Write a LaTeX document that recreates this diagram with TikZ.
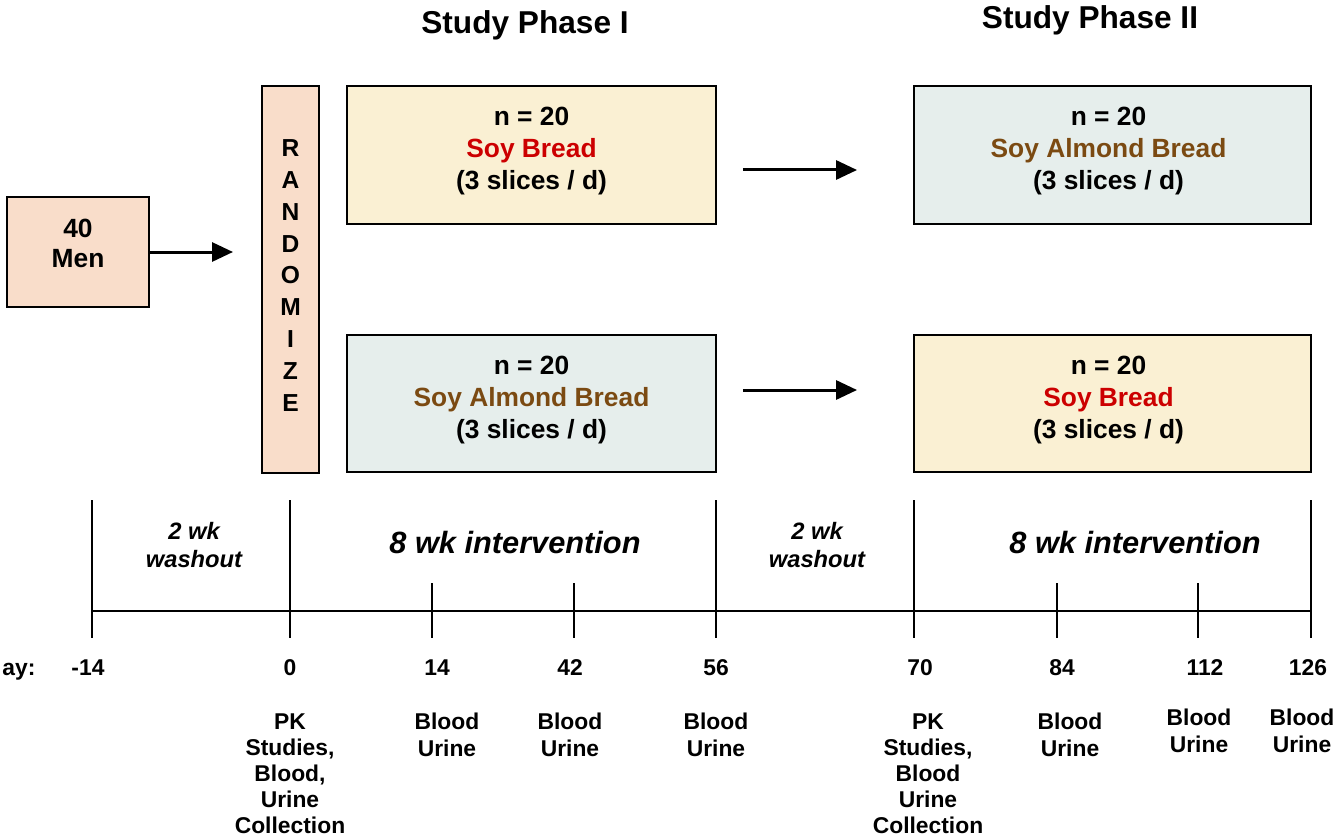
\documentclass[tikz,border=0pt]{standalone}
\usepackage{fontspec}
\setmainfont{Liberation Sans}
\usetikzlibrary{arrows.meta}

\definecolor{peach}{HTML}{F9DDCA}
\definecolor{cream}{HTML}{FAF0D3}
\definecolor{mist}{HTML}{E6EEEC}
\definecolor{soyred}{HTML}{CC0000}
\definecolor{almondbrown}{HTML}{7B4A12}

\tikzset{
  box/.style={draw=black, line width=0.4mm, inner sep=0pt},
  boxtext/.style={align=center, font=\bfseries\fontsize{15}{18.2}\selectfont},
  menbox/.style={box, fill=peach, minimum width=28.4mm, minimum height=22.2mm},
  randbox/.style={box, fill=peach, minimum width=11.4mm, minimum height=77.4mm},
  soybox/.style={box, fill=cream, minimum height=27.6mm},
  almondbox/.style={box, fill=mist, minimum height=27.6mm},
  arr/.style={line width=0.6mm, -{Triangle[length=4.2mm,width=3.8mm]}},
  daylab/.style={anchor=base, font=\bfseries\fontsize{13}{15}\selectfont},
  eventlab/.style={anchor=north, align=center, inner sep=0pt,
    font=\bfseries\fontsize{13}{14.9}\selectfont},
  phaselab/.style={align=center, font=\bfseries\itshape\fontsize{13.5}{15.9}\selectfont},
  intlab/.style={font=\bfseries\itshape\fontsize{17.5}{19}\selectfont},
  titlelab/.style={font=\bfseries\fontsize{18}{20}\selectfont}
}

\begin{document}
\begin{tikzpicture}[x=0.02cm, y=-0.02cm]
  \useasboundingbox (0,0) rectangle (1339,838);

  % titles
  \node[titlelab] (t1) at (525,25) {Study Phase I};
  \node[titlelab] (t2) at (1090,20) {Study Phase II};

  % recruitment and randomisation
  \node[menbox] (men) at (78,252) {};
  \node[boxtext, font=\bfseries\fontsize{15}{17}\selectfont] (mentxt)
    at ([yshift=1.8mm]men.center) {40\\Men};
  \node[randbox] (rand) at (290.5,279.5) {};
  \node[boxtext, font=\bfseries\fontsize{14}{18.1}\selectfont] (randtxt)
    at ([yshift=0.8mm]rand.center) {R\\A\\N\\D\\O\\M\\I\\Z\\E};
  \draw[arr, shorten >=5.6mm] (men.east) -- (men.east -| rand.west);

  % study arms
  \node[soybox, minimum width=73.8mm] (s1) at (531.5,155) {};
  \node[boxtext] (s1txt) at ([yshift=0.7mm]s1.center)
    {n = 20\\\textcolor{soyred}{Soy Bread}\\(3 slices / d)};
  \node[almondbox, minimum width=73.8mm] (a1) at (531.5,403.5) {};
  \node[boxtext] (a1txt) at ([yshift=0.6mm]a1.center)
    {n = 20\\\textcolor{almondbrown}{Soy Almond Bread}\\(3 slices / d)};
  \node[almondbox, minimum width=79.4mm] (a2) at (1112.5,155) {};
  \node[boxtext] (a2txt) at ([xshift=-0.8mm,yshift=0.7mm]a2.center)
    {n = 20\\\textcolor{almondbrown}{Soy Almond Bread}\\(3 slices / d)};
  \node[soybox, minimum width=79.4mm] (s2) at (1112.5,403.5) {};
  \node[boxtext] (s2txt) at ([xshift=-0.8mm,yshift=0.6mm]s2.center)
    {n = 20\\\textcolor{soyred}{Soy Bread}\\(3 slices / d)};

  \draw[arr, shorten <=5.2mm, shorten >=11.2mm]
    ([yshift=-3mm]s1.east) -- ([yshift=-3mm]a2.west);
  \draw[arr, shorten <=5.2mm, shorten >=11.2mm]
    ([yshift=2.7mm]a1.east) -- ([yshift=2.7mm]s2.west);

  % timeline
  \draw[line width=0.4mm] (92,611) -- (1311,611);
  \foreach \x in {92,290,716,914,1311} {
    \draw[line width=0.35mm] (\x,500) -- (\x,638);
  }
  \foreach \x in {432,574,1057,1198} {
    \draw[line width=0.35mm] (\x,583) -- (\x,638);
  }

  \node[phaselab] (w1) at (194,545) {2 wk\\washout};
  \node[phaselab] (w2) at (817,545) {2 wk\\washout};
  \node[intlab] (i1) at (515,543) {8 wk intervention};
  \node[intlab] (i2) at (1135,543) {8 wk intervention};

  % days
  \node[daylab] (day) at (19,675) {ay:};
  \foreach \x/\d [count=\i] in {88/-14,290/0,437/14,570/42,716/56,920/70,1062/84,1205/112,1308/126} {
    \node[daylab] (d\i) at (\x,675) {\d};
  }

  % sampling
  \node[eventlab] (e1) at (290,713) {PK\\Studies,\\Blood,\\Urine\\Collection};
  \node[eventlab] (e2) at (447,713) {Blood\\Urine};
  \node[eventlab] (e3) at (570,713) {Blood\\Urine};
  \node[eventlab] (e4) at (716,713) {Blood\\Urine};
  \node[eventlab] (e5) at (928,713) {PK\\Studies,\\Blood\\Urine\\Collection};
  \node[eventlab] (e6) at (1070,713) {Blood\\Urine};
  \node[eventlab] (e7) at (1199,709) {Blood\\Urine};
  \node[eventlab] (e8) at (1302,709) {Blood\\Urine};
\end{tikzpicture}
\end{document}
